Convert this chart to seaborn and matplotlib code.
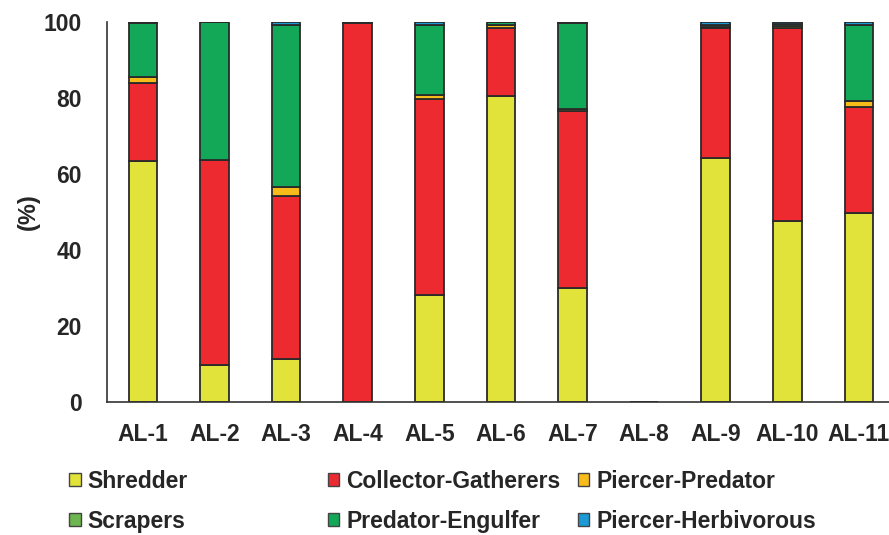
import numpy as np
import pandas as pd
import matplotlib
matplotlib.use("Agg")
import matplotlib.pyplot as plt
import seaborn as sns
from matplotlib.patches import Patch

# data (percent of individuals per functional feeding group)
sites = ["AL-1", "AL-2", "AL-3", "AL-4", "AL-5", "AL-6", "AL-7", "AL-8", "AL-9", "AL-10", "AL-11"]
shredder = [63.5, 9.8, 11.2, 0.0, 28.2, 80.5, 30.0, 0.0, 64.2, 47.6, 49.7]
collector = [20.5, 53.9, 43.1, 99.7, 51.6, 18.0, 46.5, 0.0, 34.1, 50.8, 27.9]
piercer_pred = [1.5, 0.0, 2.4, 0.0, 1.0, 0.7, 0.5, 0.0, 0.4, 0.5, 1.6]
scrapers = [0.0, 0.0, 0.0, 0.0, 0.0, 0.0, 0.0, 0.0, 0.0, 0.0, 0.0]
pred_engulfer = [14.3, 36.3, 42.5, 0.3, 18.4, 0.8, 22.7, 0.0, 0.4, 0.7, 20.0]
piercer_herb = [0.2, 0.0, 0.8, 0.0, 0.8, 0.0, 0.3, 0.0, 0.9, 0.4, 0.8]

groups = ["Shredder", "Collector-Gatherers", "Piercer-Predator",
          "Scrapers", "Predator-Engulfer", "Piercer-Herbivorous"]
colors = ["#E2E33A", "#EC2A2F", "#F8BC1A", "#6DB54E", "#13A858", "#1C9AD6"]

df = pd.DataFrame({"site": sites, "Shredder": shredder, "Collector-Gatherers": collector,
                   "Piercer-Predator": piercer_pred, "Scrapers": scrapers,
                   "Predator-Engulfer": pred_engulfer, "Piercer-Herbivorous": piercer_herb})

sns.set_style("white")
plt.rcParams["font.family"] = ["Liberation Sans", "DejaVu Sans"]
plt.rcParams["font.weight"] = "bold"

fig = plt.figure(figsize=(8.89, 5.35), dpi=100)
ax = fig.add_axes([0.1204, 0.2486, 0.8796, 0.7103])

edge = "#2a2a2a"
bottom = np.zeros(len(sites))
for g, c in zip(groups, colors):
    sns.barplot(data=df, x="site", y=g, order=sites, color=c, width=0.4,
                bottom=bottom, edgecolor=edge, linewidth=1.3, saturation=1, ax=ax)
    bottom = bottom + df[g].values

ax.set_ylim(0, 100)
ax.set_xlim(-0.5, 10.42)
ax.set_yticks([0, 20, 40, 60, 80, 100])
ax.set_yticklabels(["0", "20", "40", "60", "80", "100"], fontsize=16.5, fontweight="bold")
# tick marks between categories, labels centred under the bars
ax.set_xticks(np.arange(-0.5, 10.5, 1.0))
ax.set_xticklabels([""] * 11)
ax.set_xticks(np.arange(len(sites)), minor=True)
ax.set_xticklabels(sites, minor=True, fontsize=16.5, fontweight="bold")
ax.tick_params(axis="x", which="major", direction="out", length=7, width=1.2, color="#333333")
ax.tick_params(axis="x", which="minor", length=0, pad=15)
ax.tick_params(axis="y", direction="out", length=7, width=1.2, color="#333333", pad=11)
ax.set_xlabel("")
ax.set_ylabel("(%)", fontsize=17, fontweight="bold", labelpad=3)

for s in ["top", "right"]:
    ax.spines[s].set_visible(False)
for s in ["left", "bottom"]:
    ax.spines[s].set_color("#333333")
    ax.spines[s].set_linewidth(1.2)

# legend: three columns of two entries, fixed spacing
col_x = [0.078, 0.369, 0.650]
for i in range(3):
    handles = [Patch(facecolor=colors[i], edgecolor="#444444", linewidth=1.0),
               Patch(facecolor=colors[i + 3], edgecolor="#444444", linewidth=1.0)]
    fig.legend(handles, [groups[i], groups[i + 3]], loc="upper left",
               bbox_to_anchor=(col_x[i], 0.122), frameon=False,
               prop={"size": 16.5, "weight": "bold"}, handlelength=0.5,
               handleheight=0.5, handletextpad=0.3, labelspacing=0.75,
               borderaxespad=0, borderpad=0)

fig.savefig("out.png", dpi=100)
